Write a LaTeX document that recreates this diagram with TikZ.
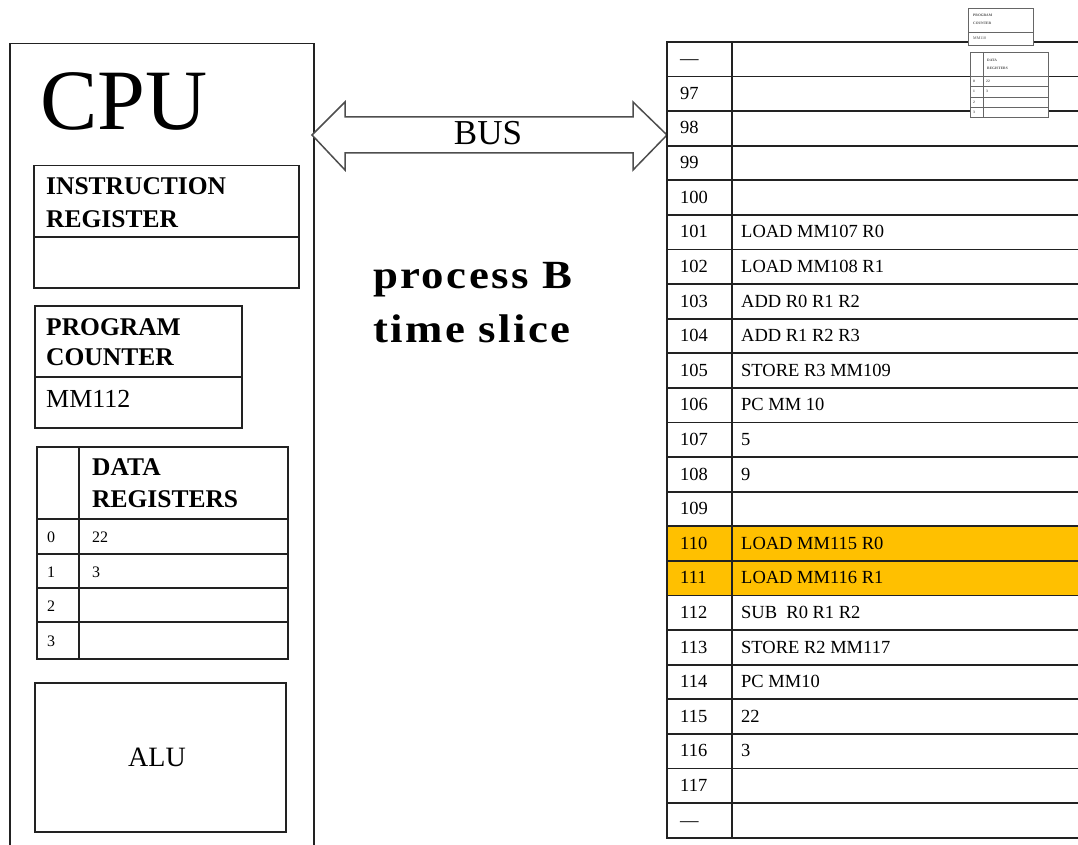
\documentclass[tikz,border=0pt]{standalone}
\usepackage{fontspec}
\setmainfont{Liberation Serif}
\definecolor{linec}{HTML}{222222}
\definecolor{hl}{HTML}{FFC000}
\begin{document}
\begin{tikzpicture}[x=1pt,y=-1pt,
  box/.style={draw=linec, line width=1.5pt, fill=white, rectangle, inner sep=0pt, anchor=north west},
  cell/.style={draw=linec, line width=1.8pt, rectangle, inner sep=0pt, anchor=north west, minimum height=34.6},
  divl/.style={draw=linec, line width=1.5pt},
  lbl/.style={inner sep=0pt, anchor=base west},
  boldlbl/.style={lbl, font=\fontsize{25.5}{26}\selectfont\bfseries},
  memtxt/.style={lbl, font=\fontsize{18.5}{19}\selectfont},
  regtxt/.style={lbl, font=\fontsize{16}{16}\selectfont},
  bigbold/.style={lbl, font=\fontsize{40}{40}\selectfont\bfseries\addfontfeatures{FakeStretch=1.12,LetterSpace=6}},
  tinybox/.style={draw=black!60, line width=0.5pt, fill=white, rectangle, inner sep=0pt, anchor=north west},
  tinytxt/.style={inner sep=0pt, anchor=base west, font=\fontsize{3.6}{4}\selectfont\bfseries, text=black!70},
]
\clip (0,0) rectangle (1078,845);
\fill[white] (0,0) rectangle (1078,845);

% ---------- CPU ----------
\node[box, minimum width=304, minimum height=830] (cpu) at (9,43) {};
\node[lbl, font=\fontsize{86}{86}\selectfont] (cputitle) at (40,130) {CPU};

% instruction register
\node[box, minimum width=265, minimum height=122] (ir) at (33,165) {};
\draw[divl] (33,237) -- (298,237);
\node[boldlbl] (irt1) at (46,195) {INSTRUCTION};
\node[boldlbl] (irt2) at (46,227) {REGISTER};

% program counter
\node[box, minimum width=207, minimum height=122] (pc) at (34,305) {};
\draw[divl] (34,377) -- (241,377);
\node[boldlbl] (pct1) at (46,335) {PROGRAM};
\node[boldlbl] (pct2) at (46,365) {COUNTER};
\node[lbl, font=\fontsize{26}{26}\selectfont] (pcval) at (46,407) {MM112};

% data registers
\node[box, minimum width=251, minimum height=212] (dr) at (36,446) {};
\draw[divl] (79,446) -- (79,658);
\foreach \yy in {519,554,588,622} \draw[divl] (36,\yy) -- (287,\yy);
\node[boldlbl] (drt1) at (92,475) {DATA};
\node[boldlbl] (drt2) at (92,507) {REGISTERS};
\foreach \r/\v/\b in {0/22/542,1/3/577,2//611,3//646}{
  \node[regtxt] (drn\r) at (47,\b) {\r};
  \node[regtxt] (drv\r) at (92,\b) {\v};
}

% ALU
\node[box, minimum width=251, minimum height=149] (alu) at (34,682) {};
\node[font=\fontsize{28}{28}\selectfont, inner sep=0pt] (alut) at (157,757) {ALU};

% ---------- BUS ----------
\draw[draw=linec!80, line width=1.5pt, fill=white, line join=miter]
  (312,135) -- (345,102) -- (345,117) -- (633,117) -- (633,102) -- (667,135)
  -- (633,170) -- (633,153) -- (345,153) -- (345,170) -- cycle;
\node[inner sep=0pt, anchor=base, font=\fontsize{35}{35}\selectfont] (bus) at (488,145) {BUS};

% ---------- process text ----------
\node[bigbold] (pb1) at (373,288) {process B};
\node[bigbold] (pb2) at (373,342) {time slice};

% ---------- memory ----------
\foreach \lab/\txt/\fc [count=\i from 0] in {
  {\textemdash}/{}/white, 97/{}/white, 98/{}/white, 99/{}/white, 100/{}/white,
  101/{LOAD MM107 R0}/white, 102/{LOAD MM108 R1}/white, 103/{ADD R0 R1 R2}/white,
  104/{ADD R1 R2 R3}/white, 105/{STORE R3 MM109}/white, 106/{PC MM 10}/white,
  107/5/white, 108/9/white, 109/{}/white, 110/{LOAD MM115 R0}/hl, 111/{LOAD MM116 R1}/hl,
  112/{SUB\ \ R0 R1 R2}/white, 113/{STORE R2 MM117}/white, 114/{PC MM10}/white,
  115/22/white, 116/3/white, 117/{}/white, {\textemdash}/{}/white}{
  \pgfmathsetmacro\yy{41+\i*34.6}
  \node[cell, fill=\fc, minimum width=65] (n\i) at (666,\yy) {};
  \node[cell, fill=\fc, minimum width=380] (c\i) at (731,\yy) {};
  \node[memtxt] (nt\i) at (680,\yy+23.8) {\lab};
  \node[memtxt] (ct\i) at (741,\yy+23.8) {\txt};
}

% ---------- thumbnail ----------
\node[tinybox, minimum width=65, minimum height=37] (tpc) at (968,8) {};
\draw[black!60, line width=0.5pt] (968,32) -- (1033,32);
\node[tinytxt] (tpc1) at (973,17) {PROGRAM};
\node[tinytxt] (tpc2) at (973,25) {COUNTER};
\node[tinytxt, font=\fontsize{4}{4}\selectfont] (tpc3) at (973,40) {MM110};
\node[tinybox, minimum width=78, minimum height=65] (tdr) at (970,52) {};
\draw[black!60, line width=0.5pt] (983,52) -- (983,117);
\foreach \yy in {76,86,97,107} \draw[black!60, line width=0.5pt] (970,\yy) -- (1048,\yy);
\node[tinytxt] (tdr1) at (987,62) {DATA};
\node[tinytxt] (tdr2) at (987,70) {REGISTERS};
\foreach \r/\v/\b in {0/22/83,1/3/93,2//104,3//114}{
  \node[tinytxt] (tdn\r) at (973,\b) {\r};
  \node[tinytxt] (tdv\r) at (986,\b) {\v};
}
\end{tikzpicture}
\end{document}
